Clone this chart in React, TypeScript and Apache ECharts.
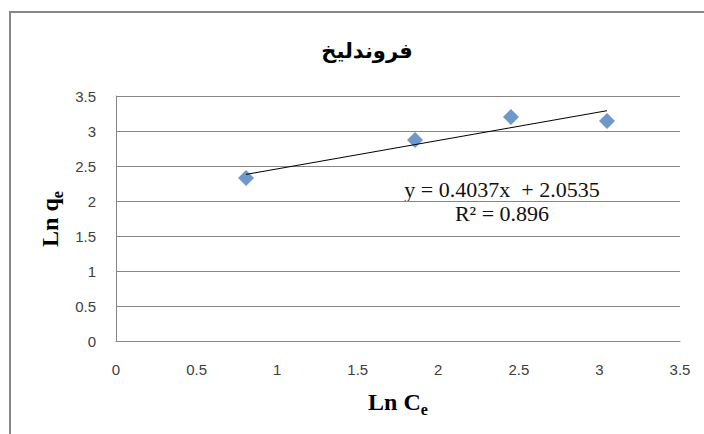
import React, { useEffect, useRef } from "react";
import * as echarts from "echarts";

const titleText = "فروندليخ";
const xTitle = "Ln C";
const yTitle = "Ln q";
const subscript = "e";
const lnCe = [0.807, 1.856, 2.451, 3.047];
const lnQe = [2.33, 2.87, 3.2, 3.143];
const trendX = [0.807, 3.047];
const trendY = [2.38, 3.29];
const equationLines = ["y = 0.4037x  + 2.0535", "R² = 0.896"];
const xTicks = [0, 0.5, 1, 1.5, 2, 2.5, 3, 3.5];
const yTicks = [0, 0.5, 1, 1.5, 2, 2.5, 3, 3.5];

export default function App() {
  const ref = useRef<HTMLDivElement>(null);
  useEffect(() => {
    if (!ref.current) return;
    const chart = echarts.init(ref.current, undefined, { renderer: "svg" });
    const gray = "#868686";
    chart.setOption({
      animation: false,
      backgroundColor: "#ffffff",
      title: {
        text: titleText,
        left: 362,
        top: 35,
        textAlign: "center",
        textStyle: { fontFamily: "DejaVu Sans", fontWeight: "bold", fontSize: 21, color: "#000" },
      },
      grid: { left: 116, top: 96, right: 24, bottom: 93 },
      xAxis: {
        type: "value",
        min: xTicks[0],
        max: xTicks[xTicks.length - 1],
        interval: 0.5,
        axisLine: { show: true, lineStyle: { color: gray, width: 1 } },
        axisTick: { show: false },
        splitLine: { show: false },
        axisLabel: { fontFamily: "Liberation Sans", fontSize: 15, color: "#404040", margin: 21 },
      },
      yAxis: {
        type: "value",
        min: yTicks[0],
        max: yTicks[yTicks.length - 1],
        interval: 0.5,
        axisLine: { show: true, lineStyle: { color: gray, width: 1 } },
        axisTick: { show: false },
        splitLine: { show: true, lineStyle: { color: gray, width: 1 } },
        axisLabel: { fontFamily: "Liberation Sans", fontSize: 15, color: "#404040", margin: 20 },
      },
      graphic: [
        { type: "line", shape: { x1: 9, y1: 12, x2: 704, y2: 12 }, style: { stroke: gray, lineWidth: 2 } },
        { type: "line", shape: { x1: 10, y1: 11, x2: 10, y2: 434 }, style: { stroke: gray, lineWidth: 2 } },
        {
          type: "text",
          x: 398,
          y: 402,
          style: {
            text: `{a|${xTitle}}{b|${subscript}}`,
            align: "center",
            verticalAlign: "middle",
            rich: {
              a: { fontFamily: "Liberation Serif", fontWeight: "bold", fontSize: 24, lineHeight: 30, fill: "#000" },
              b: { fontFamily: "Liberation Serif", fontWeight: "bold", fontSize: 16, lineHeight: 16, verticalAlign: "bottom", fill: "#000" },
            },
          },
        },
        {
          type: "text",
          x: 50,
          y: 219,
          rotation: Math.PI / 2,
          style: {
            text: `{a|${yTitle}}{b|${subscript}}`,
            align: "center",
            verticalAlign: "middle",
            rich: {
              a: { fontFamily: "Liberation Serif", fontWeight: "bold", fontSize: 24, lineHeight: 30, fill: "#000" },
              b: { fontFamily: "Liberation Serif", fontWeight: "bold", fontSize: 16, lineHeight: 16, verticalAlign: "bottom", fill: "#000" },
            },
          },
        },
        {
          type: "text",
          x: 502,
          y: 201,
          style: {
            text: equationLines.join("\n"),
            align: "center",
            verticalAlign: "middle",
            fontFamily: "Liberation Serif",
            fontSize: 22,
            lineHeight: 24,
            fill: "#111",
          },
        },
      ],
      series: [
        {
          type: "scatter",
          data: lnCe.map((x, i) => [x, lnQe[i]]),
          symbol: "diamond",
          symbolSize: 16,
          itemStyle: { color: "#4a7ebb" },
          z: 2,
        },
        {
          type: "line",
          data: trendX.map((x, i) => [x, trendY[i]]),
          symbol: "none",
          lineStyle: { color: "#000", width: 1 },
          z: 3,
        },
      ],
    });
    return () => chart.dispose();
  }, []);
  return <div ref={ref} style={{ position: "fixed", left: 0, top: 0, width: 704, height: 434 }} />;
}
